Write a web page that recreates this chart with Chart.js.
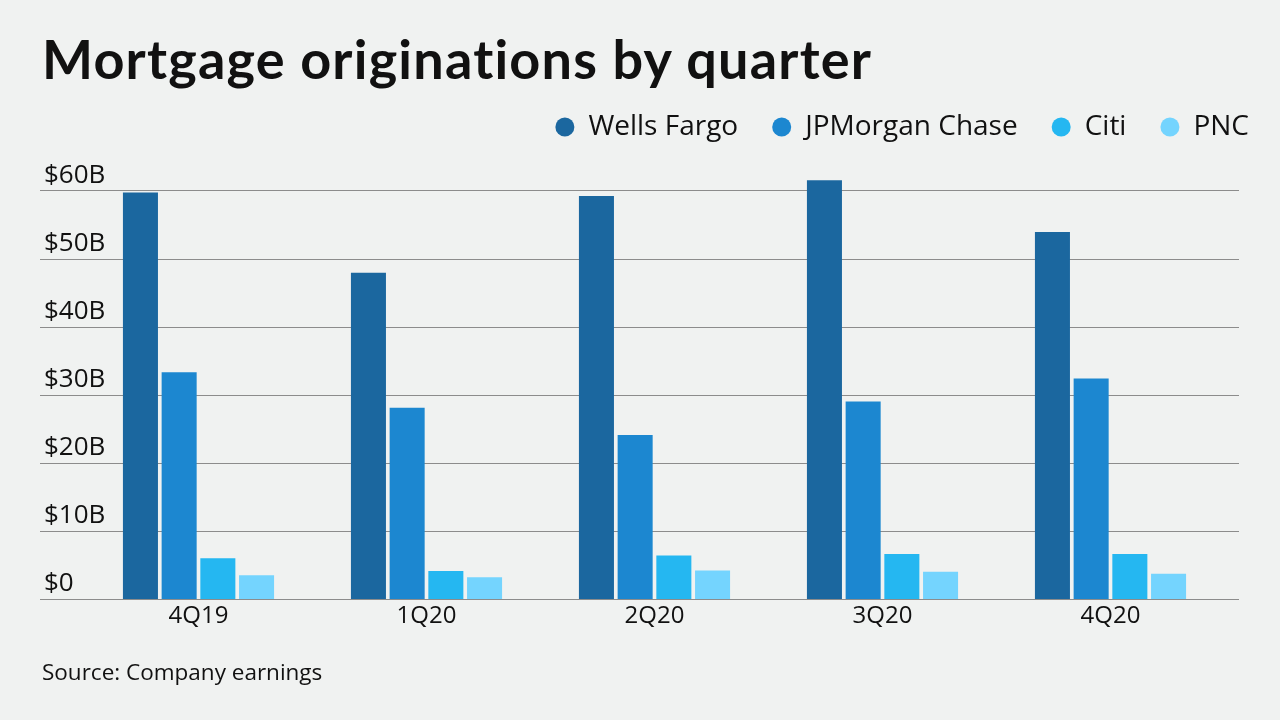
<!DOCTYPE html>
<html>
<head>
<meta charset="utf-8">
<script src="https://cdn.jsdelivr.net/npm/chart.js@4/dist/chart.umd.min.js"></script>
<style>
  html, body { margin: 0; padding: 0; background: #f0f2f1; }
  body { width: 1280px; height: 720px; position: relative; overflow: hidden; font-family: 'Open Sans', sans-serif; color: #111; }
  #title { position: absolute; left: 42px; top: 32px; font-family: Lato, sans-serif; font-size: 54px; font-weight: 700; line-height: 1; white-space: nowrap; letter-spacing: 1.2px; }
  #source { position: absolute; left: 42px; top: 661px; font-size: 22.5px; line-height: 1; white-space: nowrap; }
  #wrap { position: absolute; left: 0; top: 0; width: 1280px; height: 720px; }
</style>
</head>
<body>
<div id="wrap"><canvas id="chart"></canvas></div>
<div id="title">Mortgage originations by quarter</div>
<div id="source">Source: Company earnings</div>
<script>
// Mortgage originations, $B per quarter
var QUARTERS = ['4Q19', '1Q20', '2Q20', '3Q20', '4Q20'];
var WELLS = [59.7, 47.9, 59.2, 61.5, 53.9];
var JPM   = [33.3, 28.1, 24.1, 29.0, 32.4];
var CITI  = [6.0, 4.1, 6.4, 6.6, 6.6];
var PNC   = [3.5, 3.2, 4.2, 4.0, 3.7];
var Y_TICKS = [0, 10, 20, 30, 40, 50, 60];

var SERIES = [
  { label: 'Wells Fargo',     data: WELLS, color: '#1b679f' },
  { label: 'JPMorgan Chase',  data: JPM,   color: '#1c87d0' },
  { label: 'Citi',            data: CITI,  color: '#25b7f1' },
  { label: 'PNC',             data: PNC,   color: '#74d4fe' }
];

// grid lines run a bit wider than the plot area
var wideGrid = {
  id: 'wideGrid',
  beforeDatasetsDraw: function(chart) {
    var y = chart.scales.y, ctx = chart.ctx;
    ctx.save();
    ctx.strokeStyle = '#8c8c8c';
    ctx.lineWidth = 1.2;
    y.ticks.forEach(function(t) {
      var py = Math.round(y.getPixelForValue(t.value)) + 0.5;
      ctx.beginPath();
      ctx.moveTo(40, py);
      ctx.lineTo(1239, py);
      ctx.stroke();
    });
    ctx.restore();
  }
};

new Chart(document.getElementById('chart'), {
  type: 'bar',
  data: {
    labels: QUARTERS,
    datasets: SERIES.map(function(s) {
      return {
        label: s.label,
        data: s.data,
        backgroundColor: s.color,
        borderWidth: 0,
        categoryPercentage: 0.679,
        barPercentage: 0.905
      };
    })
  },
  options: {
    responsive: true,
    maintainAspectRatio: false,
    animation: false,
    layout: { padding: { top: 79, right: -3, left: 44, bottom: 81 } },
    plugins: {
      legend: {
        position: 'top',
        align: 'end',
        labels: {
          usePointStyle: true,
          pointStyle: 'circle',
          pointStyleWidth: 19,
          boxHeight: 13.4,
          padding: 34,
          color: '#111',
          font: { family: 'Open Sans', size: 28 }
        }
      },
      tooltip: { enabled: false }
    },
    scales: {
      x: {
        grid: { display: false, drawTicks: false },
        border: { display: false },
        ticks: { color: '#111', font: { family: 'Open Sans', size: 24 }, padding: 3 },
        afterFit: function(s) { s.height = 40; }
      },
      y: {
        min: 0,
        max: 65.8,
        grid: { display: false, drawTicks: false },
        border: { display: false },
        afterBuildTicks: function(s) {
          s.ticks = Y_TICKS.map(function(v) { return { value: v }; });
        },
        ticks: {
          mirror: true,
          padding: -40.5,
          labelOffset: -15,
          color: '#111',
          font: { family: 'Open Sans', size: 26 },
          callback: function(v) { return v === 0 ? '$0' : '$' + v + 'B'; }
        },
        afterFit: function(s) { s.width = 40.5; }
      },
      yRight: {
        position: 'right',
        grid: { display: false, drawTicks: false },
        border: { display: false },
        ticks: { display: false },
        afterFit: function(s) { s.width = 58.5; }
      }
    }
  },
  plugins: [wideGrid]
});
</script>
</body>
</html>
